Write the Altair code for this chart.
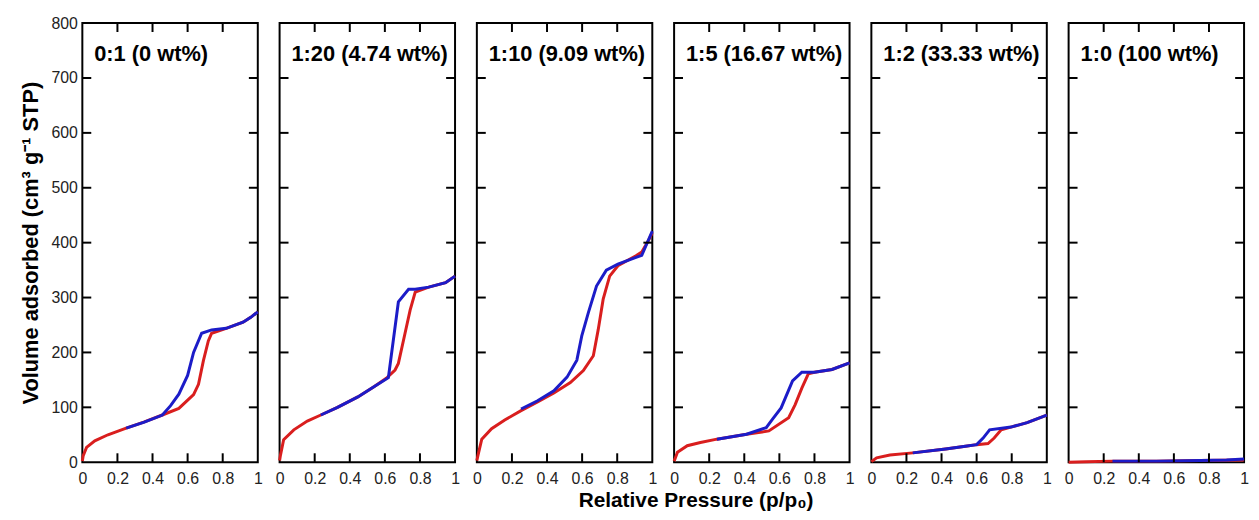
import altair as alt
import pandas as pd

FONT = "Liberation Sans"
RED = "#d91e1e"
BLUE = "#1c1cc8"

samples = ["0:1 (0 wt%)", "1:20 (4.74 wt%)", "1:10 (9.09 wt%)",
           "1:5 (16.67 wt%)", "1:2 (33.33 wt%)", "1:0 (100 wt%)"]

# adsorption (red) and desorption (blue) branches
ads_p = [
    [0, 0.005, 0.024, 0.071, 0.146, 0.25, 0.35, 0.456, 0.55, 0.634, 0.662, 0.69, 0.718, 0.737, 0.82, 0.916, 0.96, 1.0],
    [0, 0.005, 0.023, 0.081, 0.158, 0.235, 0.33, 0.446, 0.54, 0.608, 0.658, 0.677, 0.715, 0.744, 0.773, 0.85, 0.946, 1.0],
    [0, 0.006, 0.028, 0.084, 0.159, 0.252, 0.346, 0.439, 0.533, 0.607, 0.664, 0.692, 0.72, 0.757, 0.804, 0.907, 0.94, 0.98, 1.0],
    [0, 0.005, 0.019, 0.075, 0.15, 0.244, 0.413, 0.54, 0.653, 0.69, 0.728, 0.765, 0.8, 0.9, 1.0],
    [0, 0.03, 0.106, 0.236, 0.423, 0.536, 0.6, 0.665, 0.70, 0.74, 0.795, 0.888, 1.0],
    [0, 0.1, 0.25, 0.5, 0.75, 1.0],
]
ads_v = [
    [2, 12, 27, 39, 50, 62, 73, 86, 98, 123, 142, 185, 221, 235, 244, 255, 264, 274],
    [3, 13, 41, 59, 75, 86, 100, 119, 138, 153, 168, 180, 235, 277, 310, 319, 327, 339],
    [3, 12, 42, 61, 77, 94, 110, 126, 145, 167, 194, 242, 297, 339, 358, 376, 383, 405, 418],
    [2, 6, 18, 30, 36, 42, 51, 57, 81, 105, 135, 161, 164, 169, 181],
    [1, 8, 13, 17, 24, 29, 32, 34, 44, 59, 64, 72, 86],
    [0, 1, 2, 2, 3, 4],
]
des_p = [
    [1.0, 0.96, 0.916, 0.82, 0.737, 0.68, 0.634, 0.60, 0.55, 0.503, 0.456, 0.353, 0.25],
    [1.0, 0.946, 0.85, 0.773, 0.735, 0.677, 0.62, 0.54, 0.446, 0.33, 0.235],
    [1.0, 0.94, 0.907, 0.804, 0.738, 0.682, 0.636, 0.598, 0.57, 0.514, 0.439, 0.346, 0.252],
    [1.0, 0.9, 0.8, 0.728, 0.675, 0.61, 0.56, 0.525, 0.413, 0.244],
    [1.0, 0.888, 0.795, 0.674, 0.637, 0.6, 0.536, 0.423, 0.236],
    [1.0, 0.9, 0.75, 0.5, 0.25],
]
des_v = [
    [274, 264, 255, 244, 241, 235, 200, 158, 124, 103, 86, 73, 62],
    [339, 327, 319, 315, 315, 292, 154, 138, 119, 100, 86],
    [421, 377, 373, 361, 350, 321, 273, 230, 186, 155, 130, 112, 97],
    [181, 169, 164, 164, 148, 99, 78, 63, 51, 42],
    [86, 72, 64, 59, 44, 32, 29, 24, 17],
    [6, 4, 3, 2, 2],
]

x_ticks = [0, 0.2, 0.4, 0.6, 0.8, 1.0]
y_ticks = [0, 100, 200, 300, 400, 500, 600, 700, 800]
inner_x = [0.2, 0.4, 0.6, 0.8]
inner_y = [100, 200, 300, 400, 500, 600, 700]

W, H = 177, 443
TLX = 9 / W        # inward tick length in x-units
TLY = 9 * 800 / H  # inward tick length in y-units

xscale = alt.Scale(domain=[0, 1], nice=False, zero=False)
yscale = alt.Scale(domain=[0, 800], nice=False)

# inward tick segments on all four sides of each frame
seg = []
for p in inner_x:
    seg.append({"xa": p, "xb": p, "ya": 0, "yb": TLY})
    seg.append({"xa": p, "xb": p, "ya": 800 - TLY, "yb": 800})
for v in inner_y:
    seg.append({"xa": 0, "xb": TLX, "ya": v, "yb": v})
    seg.append({"xa": 1 - TLX, "xb": 1, "ya": v, "yb": v})
seg_df = pd.DataFrame(seg)


def panel(i):
    rows = []
    for k, (pp, vv) in enumerate(zip(ads_p[i], ads_v[i])):
        rows.append({"branch": "ads", "p": pp, "v": vv, "o": k})
    for k, (pp, vv) in enumerate(zip(des_p[i], des_v[i])):
        rows.append({"branch": "des", "p": pp, "v": vv, "o": k})
    df = pd.DataFrame(rows)
    xaxis = alt.Axis(values=x_ticks, format=".1~f", ticks=False, domain=False, grid=False,
                     title=None, labelPadding=8, labelFontSize=16, labelColor="#222222",
                     labelFont=FONT, labelOverlap=False, labelFlush=False)
    if i == 0:
        yaxis = alt.Axis(values=y_ticks, ticks=False, domain=False, grid=False,
                         title="Volume adsorbed (cm³ g⁻¹ STP)", titleFont=FONT,
                         titleFontSize=22, titleFontWeight="bold", titleColor="black",
                         titlePadding=9, labelPadding=5, labelFontSize=16,
                         labelColor="#222222", labelFont=FONT, labelFlush=False,
                         labelOverlap=False)
    else:
        yaxis = None
    lines = alt.Chart(df).mark_line(strokeWidth=3).encode(
        x=alt.X("p:Q", scale=xscale, axis=xaxis),
        y=alt.Y("v:Q", scale=yscale, axis=yaxis),
        color=alt.Color("branch:N", scale=alt.Scale(domain=["ads", "des"], range=[RED, BLUE]),
                        legend=None),
        order="o:Q",
    )
    ticks = alt.Chart(seg_df).mark_rule(color="black", strokeWidth=2).encode(
        x=alt.X("xa:Q", scale=xscale, axis=xaxis), x2="xb:Q",
        y=alt.Y("ya:Q", scale=yscale, axis=yaxis), y2="yb:Q",
    )
    label = alt.Chart(pd.DataFrame({"t": [samples[i]]})).mark_text(
        align="left", baseline="middle", font=FONT, fontSize=22, fontWeight="bold",
        color="black").encode(x=alt.value(12), y=alt.value(31), text="t:N")
    return alt.layer(lines, ticks, label).properties(width=W, height=H)


chart = alt.hconcat(*[panel(i) for i in range(6)], spacing=22, bounds="flush").properties(
    title=alt.TitleParams("Relative Pressure (p/p₀)", orient="bottom", anchor="middle",
                          font=FONT, fontSize=21, fontWeight="bold", color="black",
                          offset=3, dx=62),
    padding={"left": 10, "top": 4, "right": 0, "bottom": 0},
    background="white",
).configure_view(stroke="black", strokeWidth=2)

chart.save("out.html", embed_options={"renderer": "svg", "actions": False})
